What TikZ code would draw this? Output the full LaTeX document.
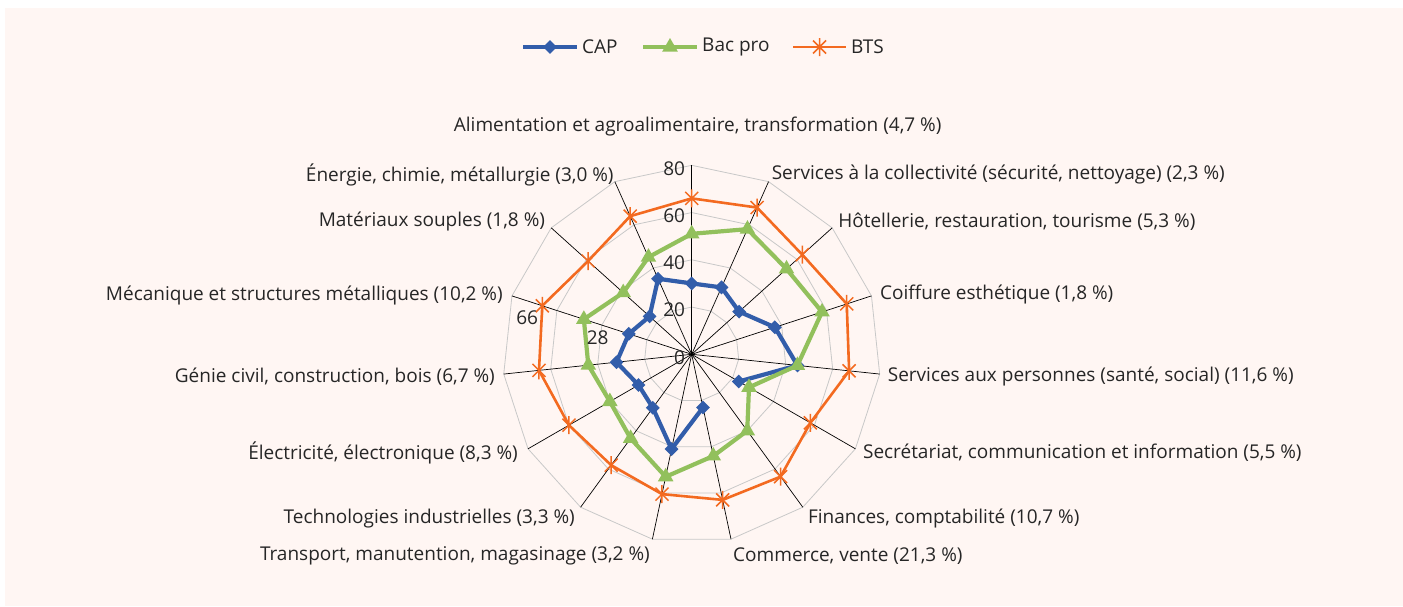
\documentclass[tikz,border=0pt]{standalone}
\usepackage{fontspec}
\setmainfont{Open Sans}
\usetikzlibrary{positioning,shapes.geometric,calc}

\definecolor{panel}{RGB}{255,246,243}
\definecolor{ink}{RGB}{38,38,38}
\definecolor{ringgray}{RGB}{200,200,200}
\definecolor{capblue}{RGB}{50,93,170}
\definecolor{bacgreen}{RGB}{146,192,92}
\definecolor{btsorange}{RGB}{243,106,32}

\newcommand\radscale{2.3625}

\tikzset{
	grid ring/.style = {draw=ringgray, line width=0.8pt},
	spoke/.style = {draw=black, line width=0.7pt},
	cap line/.style = {draw=capblue, line width=4.2pt, line join=round},
	bac line/.style = {draw=bacgreen, line width=4.2pt, line join=round},
	bts line/.style = {draw=btsorange, line width=2.6pt, line join=round},
	cap mark/.style = {diamond, fill=capblue,
			inner sep=0pt, minimum size=14pt},
	bac mark/.style = {regular polygon, regular polygon sides=3,
			fill=bacgreen, inner sep=0pt, minimum size=18pt},
	bts star/.pic = {\draw[btsorange, line width=1.5pt]
			(-6.5,-6.5) -- (6.5,6.5) (-6.5,6.5) -- (6.5,-6.5) (0,-9) -- (0,9);},
	catlab/.style = {text=ink, inner sep=0pt,
			font=\fontsize{19}{22}\selectfont},
	valab/.style = {catlab},
	legtext/.style = {catlab}
}

\begin{document}
\begin{tikzpicture}[x=1pt, y=-1pt]

\useasboundingbox (0,0) rectangle (1403,606);
\fill[panel] (5,8) rectangle (1403,606);

% legend
\coordinate (capL) at (523,47);
\coordinate (capR) at (577,47);
\draw[cap line] (capL) -- (capR);
\node[cap mark] (capM) at ($(capL)!0.5!(capR)$) {};
\node[legtext, right=5pt of capR] (capT) {CAP};

\coordinate (bacL) at (643,47);
\coordinate (bacR) at (697,47);
\draw[bac line] (bacL) -- (bacR);
\node[bac mark] (bacM) at ($(bacL)!0.5!(bacR)$) {};
\node[legtext, right=5pt of bacR] (bacT) {Bac pro};

\coordinate (btsL) at (793,47);
\coordinate (btsR) at (846,47);
\draw[bts line] (btsL) -- (btsR);
\pic at ($(btsL)!0.5!(btsR)$) {bts star};
\node[legtext, right=5pt of btsR] (btsT) {BTS};

\begin{scope}[shift={(691.7,354.3)}]
\coordinate (c) at (0,0);

% grid and spokes
\foreach \r in {20,40,60,80}
	\draw[grid ring] (-90:\r*\radscale)
		\foreach \i in {1,...,14} {-- (24*\i-90:\r*\radscale)} -- cycle;

\foreach \i in {0,...,14} {
	\coordinate (v\i) at (24*\i-90:80*\radscale);
	\draw[spoke] (c) -- (v\i);
}

\foreach \v in {0,20,40,60,80}
	\node[valab, anchor=east] (val\v) at (-6.5,-\v*\radscale+3) {\v};

% data points
\foreach \v [count=\i from 0] in {30,31,27,37,45,23,0,23,41,28,26,32,28,24,35}
	\coordinate (cap\i) at (24*\i-90:\v*\radscale);
\foreach \v [count=\i from 0] in {51,58,54,58,45,28,40,44,53,44,40,44,48,39,45}
	\coordinate (bac\i) at (24*\i-90:\v*\radscale);
\foreach \v [count=\i from 0] in {66,68,63,69,67,58,64,63,60.5,58,60,65,66.5,59,64}
	\coordinate (bts\i) at (24*\i-90:\v*\radscale);
\end{scope}

% CAP has no Finances value
\draw[cap line] (cap7) \foreach \i in {8,...,14} {-- (cap\i)}
	\foreach \i in {0,...,5} {-- (cap\i)};
\foreach \i in {0,...,5,7,8,...,14}
	\node[cap mark] at (cap\i) {};

\draw[bac line] (bac0) \foreach \i in {1,...,14} {-- (bac\i)} -- cycle;
\foreach \i in {0,...,14}
	\node[bac mark] at (bac\i) {};

\draw[bts line] (bts0) \foreach \i in {1,...,14} {-- (bts\i)} -- cycle;
\foreach \i in {0,...,14}
	\pic at (bts\i) {bts star};

\node[valab, left=20pt of cap12, yshift=-4pt] (capval) {28};
\node[valab, below left=5pt and 4pt of bts12] (btsval) {66};

% category labels
\node[catlab, above=29pt of v0, xshift=6pt] (lab0)
	{Alimentation et agroalimentaire, transformation (4,7~\%)};

\node[catlab, right=3pt of v1, yshift=7pt] (lab1)
	{Services à la collectivité (sécurité, nettoyage) (2,3~\%)};

\node[catlab, right=6pt of v2, yshift=6pt] (lab2)
	{Hôtellerie, restauration, tourisme (5,3~\%)};

\node[catlab, right=8.5pt of v3, yshift=1pt] (lab3)
	{Coiffure esthétique (1,8~\%)};

\node[catlab, right=8pt of v4, yshift=-2.5pt] (lab4)
	{Services aux personnes (santé, social) (11,6~\%)};

\node[catlab, right=7.5pt of v5, yshift=-4pt] (lab5)
	{Secrétariat, communication et information (5,5~\%)};

\node[catlab, right=5pt of v6, yshift=-11pt] (lab6)
	{Finances, comptabilité (10,7~\%)};

\node[catlab, right=2pt of v7, yshift=-16.5pt] (lab7)
	{Commerce, vente (21,3~\%)};

\node[catlab, left=2.4pt of v8, yshift=-16.5pt] (lab8)
	{Transport, manutention, magasinage (3,2~\%)};

\node[catlab, left=5.6pt of v9, yshift=-11pt] (lab9)
	{Technologies industrielles (3,3~\%)};

\node[catlab, left=10pt of v10, yshift=-4pt] (lab10)
	{Électricité, électronique (8,3~\%)};

\node[catlab, left=8.7pt of v11, yshift=-2.5pt] (lab11)
	{Génie civil, construction, bois (6,7~\%)};

\node[catlab, left=9pt of v12] (lab12)
	{Mécanique et structures métalliques (10,2~\%)};

\node[catlab, left=6pt of v13, yshift=6pt] (lab13)
	{Matériaux souples (1,8~\%)};

\node[catlab, left=1pt of v14, yshift=7pt] (lab14)
	{Énergie, chimie, métallurgie (3,0~\%)};

\end{tikzpicture}
\end{document}
